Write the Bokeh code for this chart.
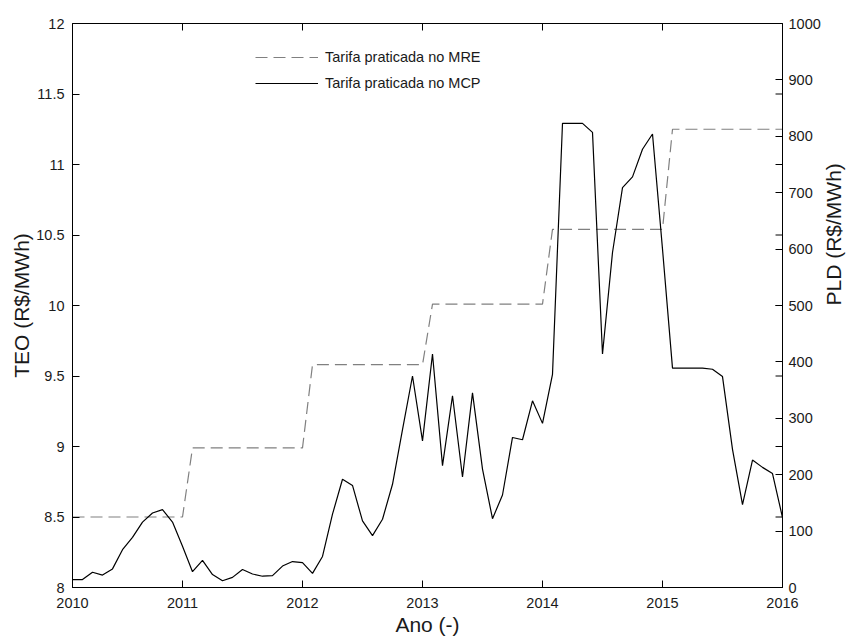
import math
from bokeh.plotting import figure
from bokeh.models import (Range1d, LinearAxis, FixedTicker, Legend, LegendItem,
                          NumeralTickFormatter)
from bokeh.embed import file_html
from bokeh.resources import INLINE

# ---------------- data ----------------
months = list(range(1, 73))  # monthly index, Jan 2010 .. Dec 2015

# TEO - tariff practised in the MRE (left axis, R$/MWh)
mre = [8.50, 8.50, 8.50, 8.50, 8.50, 8.50, 8.50, 8.50, 8.50, 8.50, 8.50, 8.50,
       8.99, 8.99, 8.99, 8.99, 8.99, 8.99, 8.99, 8.99, 8.99, 8.99, 8.99, 8.99,
       9.58, 9.58, 9.58, 9.58, 9.58, 9.58, 9.58, 9.58, 9.58, 9.58, 9.58, 9.58,
       10.01, 10.01, 10.01, 10.01, 10.01, 10.01, 10.01, 10.01, 10.01, 10.01, 10.01, 10.01,
       10.54, 10.54, 10.54, 10.54, 10.54, 10.54, 10.54, 10.54, 10.54, 10.54, 10.54, 10.54,
       11.25, 11.25, 11.25, 11.25, 11.25, 11.25, 11.25, 11.25, 11.25, 11.25, 11.25, 11.25]

# PLD - tariff practised in the MCP (right axis, R$/MWh)
pld = [14, 14, 27, 22, 33, 67, 89, 116, 132, 138, 116, 73,
       28, 48, 23, 12, 18, 32, 24, 20, 21, 38, 46, 44,
       25, 55, 130, 192, 181, 118, 92, 121, 183, 280, 375, 260,
       414, 216, 340, 196, 345, 210, 122, 164, 266, 262, 331, 291,
       378, 823, 823, 823, 807, 414, 594, 709, 728, 777, 804, 600,
       389, 389, 389, 389, 387, 374, 245, 147, 226, 213, 202, 124]

year_tick_pos = [1, 12, 24, 36, 48, 60, 72]
year_labels = ["2010", "2011", "2012", "2013", "2014", "2015", "2016"]
teo_ticks = [8, 8.5, 9, 9.5, 10, 10.5, 11, 11.5, 12]
pld_ticks = [0, 100, 200, 300, 400, 500, 600, 700, 800, 900, 1000]

# ---------------- style ----------------
FONT = "Liberation Sans"
TXT = "#1a1a1a"
TICK_FS = "14.5px"
LABEL_FS = "21px"
TICK_LEN = 7

W, H = 859, 639
BL, BR, BT, BB = 72, 73, 23, 52
X0, X1, Y0, Y1 = 1, 72, 8, 12

p = figure(width=W, height=H, output_backend="svg", toolbar_location=None,
           x_range=Range1d(X0, X1), y_range=Range1d(Y0, Y1),
           min_border_left=BL, min_border_right=BR,
           min_border_top=BT, min_border_bottom=BB,
           background_fill_color="white", border_fill_color="white")
p.extra_y_ranges = {"pld": Range1d(0, 1000)}
p.grid.visible = False
p.outline_line_color = "black"
p.outline_line_width = 1
p.outline_line_alpha = 1


def style_axis(ax):
    ax.major_tick_in = TICK_LEN
    ax.major_tick_out = 0
    ax.minor_tick_in = 0
    ax.minor_tick_out = 0
    ax.axis_line_color = "black"
    ax.major_tick_line_color = "black"
    ax.major_label_text_font = FONT
    ax.major_label_text_font_size = TICK_FS
    ax.major_label_text_color = TXT
    ax.axis_label_text_font = FONT
    ax.axis_label_text_font_size = LABEL_FS
    ax.axis_label_text_font_style = "normal"
    ax.axis_label_text_color = TXT


# bottom axis
xa = p.xaxis[0]
style_axis(xa)
xa.ticker = FixedTicker(ticks=year_tick_pos)
xa.major_label_overrides = {t: l for t, l in zip(year_tick_pos, year_labels)}
xa.major_label_standoff = 10
xa.axis_label = "Ano (-)"
xa.axis_label_standoff = 2

# left axis
ya = p.yaxis[0]
style_axis(ya)
ya.ticker = FixedTicker(ticks=teo_ticks)
ya.formatter = NumeralTickFormatter(format="0.[0]")
ya.major_label_standoff = 8
ya.axis_label = "TEO (R$/MWh)"
ya.axis_label_standoff = 0

# right axis
ra = LinearAxis(y_range_name="pld", ticker=FixedTicker(ticks=pld_ticks))
style_axis(ra)
ra.major_label_standoff = 6
ra.axis_label = "PLD (R$/MWh)"
ra.axis_label_standoff = 10
if "axis_label_orientation" in ra.properties():
    ra.axis_label_orientation = math.pi / 2
p.add_layout(ra, "right")

# ticks mirrored on the top edge and (left-axis ticks) on the right edge
frame_w = W - BL - BR
frame_h = H - BT - BB
tick_dx = TICK_LEN * (X1 - X0) / frame_w
tick_dy = TICK_LEN * (Y1 - Y0) / frame_h
p.segment(x0=[X1 - tick_dx] * len(teo_ticks), x1=[X1] * len(teo_ticks),
          y0=teo_ticks, y1=teo_ticks, line_color="black", line_width=1)
p.segment(x0=year_tick_pos, x1=year_tick_pos,
          y0=[Y1] * len(year_tick_pos), y1=[Y1 - tick_dy] * len(year_tick_pos),
          line_color="black", line_width=1)

# data lines
r_mre = p.line(months, mre, line_color="#808080", line_width=1.2, line_dash="12 6")
r_pld = p.line(months, pld, y_range_name="pld", line_color="black", line_width=1.2)

legend = Legend(items=[LegendItem(label="Tarifa praticada no MRE", renderers=[r_mre]),
                       LegendItem(label="Tarifa praticada no MCP", renderers=[r_pld])],
                location=(183, 494), glyph_width=63, glyph_height=20,
                label_height=20, label_standoff=7, spacing=6, padding=0, margin=0,
                border_line_color=None, background_fill_alpha=0,
                label_text_font=FONT, label_text_font_size=TICK_FS,
                label_text_color=TXT)
p.add_layout(legend)

open("out.html", "w").write(file_html(p, INLINE))
